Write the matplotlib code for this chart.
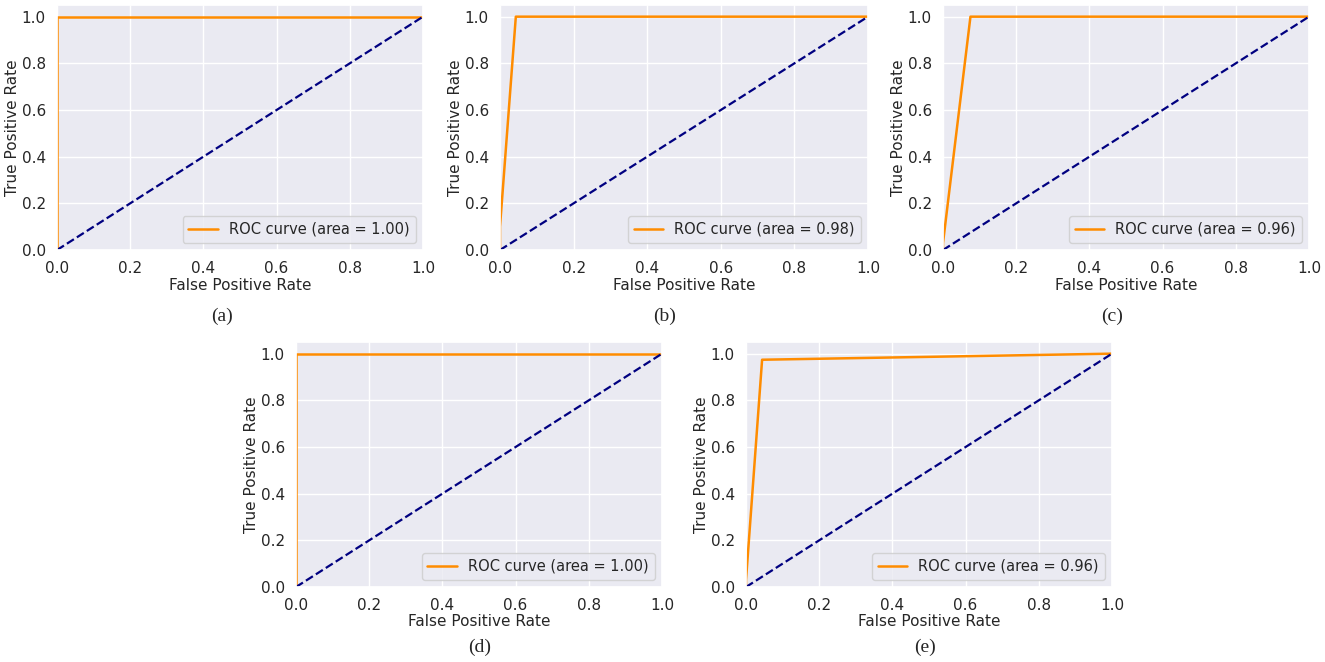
import matplotlib
matplotlib.use('Agg')
import matplotlib.pyplot as plt
import seaborn as sns

# ROC curve points
fpr_a = [0.0, 0.0, 1.0]
tpr_a = [0.0, 1.0, 1.0]
fpr_b = [0.0, 0.0, 0.043, 1.0]
tpr_b = [0.0, 0.10, 1.0, 1.0]
fpr_c = [0.0, 0.0, 0.075, 1.0]
tpr_c = [0.0, 0.03, 1.0, 1.0]
fpr_d = [0.0, 0.0, 1.0]
tpr_d = [0.0, 1.0, 1.0]
fpr_e = [0.0, 0.0, 0.044, 1.0]
tpr_e = [0.0, 0.03, 0.974, 1.0]
areas = [1.00, 0.98, 0.96, 1.00, 0.96]
panel_names = ['(a)', '(b)', '(c)', '(d)', '(e)']

sns.set_theme(style='darkgrid', font='DejaVu Sans')
plt.rcParams['font.family'] = ['DejaVu Sans']
plt.rcParams['font.sans-serif'] = ['DejaVu Sans']

W, H = 1325, 662
fig = plt.figure(figsize=(W / 100, H / 100), dpi=100)

# pixel boxes: left, right, top, bottom
boxes = [
    (57, 423, 5, 250),
    (500, 868, 5, 250),
    (943, 1309, 5, 250),
    (296, 662, 342, 587),
    (746, 1112, 342, 587),
]
label_pos = [(222, 316), (665, 316), (1112, 316), (480, 647), (925, 647)]
curves = [(fpr_a, tpr_a), (fpr_b, tpr_b), (fpr_c, tpr_c), (fpr_d, tpr_d), (fpr_e, tpr_e)]

for (l, r, t, b), (fpr, tpr), area, name, (lx, ly) in zip(boxes, curves, areas, panel_names, label_pos):
    ax = fig.add_axes([l / W, (H - b) / H, (r - l) / W, (b - t) / H])
    ax.plot(fpr, tpr, color='darkorange', lw=1.8,
            label='ROC curve (area = %0.2f)' % area)
    ax.plot([0, 1], [0, 1], color='navy', lw=1.6, linestyle='--')
    ax.set_xlim(0.0, 1.0)
    ax.set_ylim(0.0, 1.05)
    ax.tick_params(labelsize=11, pad=2)
    ax.set_xlabel('False Positive Rate', fontsize=11, labelpad=1)
    ax.set_ylabel('True Positive Rate', fontsize=11, labelpad=1)
    ax.legend(loc='lower right', fontsize=10.5)
    fig.text(lx / W, 1 - ly / H, name, ha='center', va='center',
             fontsize=14, family='Liberation Serif')

fig.savefig('out.png', dpi=100)
